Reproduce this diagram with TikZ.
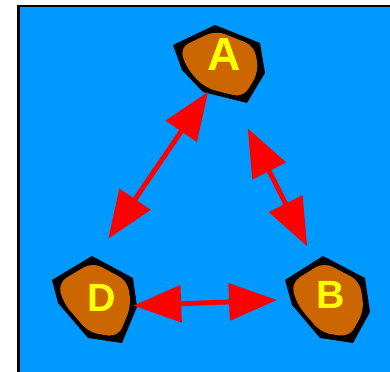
\documentclass[tikz,border=0pt]{standalone}
\usepackage{fontspec}
\setmainfont{Liberation Sans}
\usetikzlibrary{arrows.meta,positioning,calc}
\definecolor{rSky}{HTML}{0099FF}
\definecolor{rOchre}{HTML}{CC6600}
\definecolor{rYellow}{HTML}{FFFF00}
\definecolor{rRed}{HTML}{FF0000}
\tikzset{
  rock/.pic={
    \fill[black] #1 -- cycle;
    \fill[rOchre,rounded corners=7pt,scale=0.86] #1 -- cycle;
  },
  site/.style={circle,minimum size=2cm,inner sep=0pt,text=rYellow,font=\bfseries},
  link/.style={rRed,line width=3.5pt,
    {Triangle[length=34pt,width=26pt]}-{Triangle[length=34pt,width=26pt]}}
}

\begin{document}
\begin{tikzpicture}
  \clip (0,0) rectangle (9.75,9.3);
  % ---- background ----
  \draw[black,line width=1.8pt,fill=rSky] (0.4675,-1) rectangle (11,9.145);
  % ---- rocks ----
  \pic at (5.5,7.7) {rock={(-1.175,0.475) -- (-0.125,0.975) -- (1.0,0.525)
    -- (1.125,-0.225) -- (0.675,-0.975) -- (-0.425,-0.7) -- (-0.95,-0.15)}};
  \pic at (2.375,1.8) {rock={(-1.075,0.5) -- (-0.075,1.1) -- (0.95,0.55)
    -- (1.05,-0.175) -- (0.675,-1.075) -- (-0.175,-0.95) -- (-0.925,-0.075)}};
  \pic at (8.2,1.8) {rock={(-1.075,0.5) -- (-0.125,1.1) -- (0.925,0.55)
    -- (1.05,-0.3) -- (0.625,-1.075) -- (-0.2,-0.95) -- (-0.9,-0.125)}};
  % ---- labels ----
  \node[site,font=\bfseries\fontsize{33}{33}\selectfont] (A) at (5.6125,7.925) {A};
  \node[site,font=\bfseries\fontsize{28}{28}\selectfont] (D) at (2.5425,1.8425) {D};
  \node[site,font=\bfseries\fontsize{28}{28}\selectfont] (B) at (8.2625,1.9175) {B};
  % ---- links ----
  \draw[link,shorten >=0.6cm] (A.246) -- (D.100);
  \draw[link,shorten <=0.94cm,shorten >=0.35cm] (A.279) -- (B.115);
  \draw[link,shorten <=-0.2cm,shorten >=0.34cm] (D.350) -- (B.186);
\end{tikzpicture}
\end{document}
